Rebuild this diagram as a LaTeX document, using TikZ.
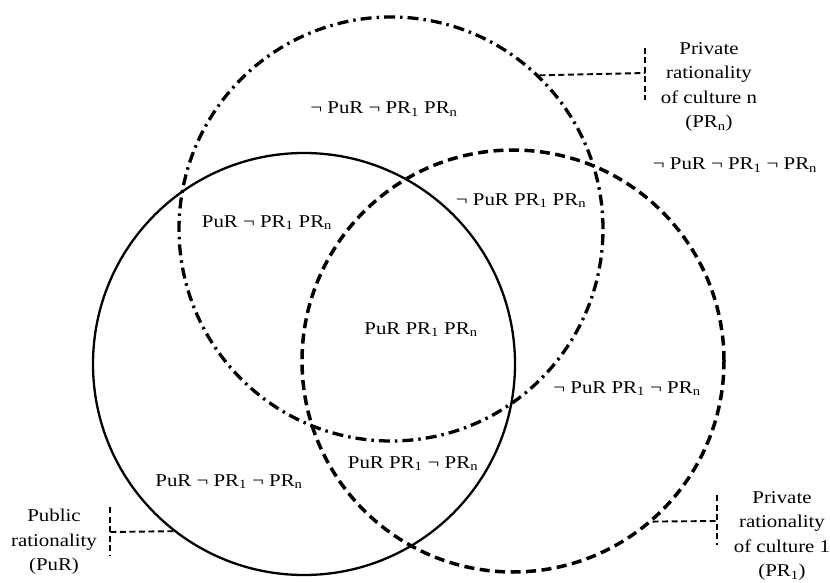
\documentclass[tikz,border=0pt]{standalone}
\usepackage{fontspec}
\setmainfont{Liberation Serif}[FakeStretch=1.16]
\usetikzlibrary{calc}
\begin{document}
\begin{tikzpicture}[x=1pt,y=-1pt,
  pubset/.style={draw, circle, inner sep=0pt, line width=2.3pt, minimum size=422pt},
  cultnset/.style={draw, circle, inner sep=0pt, line width=3.3pt, minimum size=424pt,
                   dash pattern=on 11pt off 5pt on 2.5pt off 5pt},
  cultoneset/.style={draw, circle, inner sep=0pt, line width=3.5pt, minimum size=422pt,
                     dash pattern=on 10pt off 5.5pt},
  lead/.style={line width=1.9pt, dash pattern=on 6pt off 3.5pt},
  region/.style={font=\fontsize{18}{25}\selectfont, inner sep=0pt, anchor=base},
  callout/.style={font=\fontsize{18}{24.5}\selectfont, inner sep=0pt, align=center}]
\useasboundingbox (0,0) rectangle (830,583);

% the three sets
\node[pubset]     (pur) at (304,364) {};
\node[cultnset]   (prn) at (391,229) {};
\node[cultoneset] (pro) at (513,361) {};

% region labels
\node[region] (r1) at (384,114) {¬ PuR ¬ PR\textsubscript{1} PR\textsubscript{n}};
\node[region] (r2) at (735,170) {¬ PuR ¬ PR\textsubscript{1} ¬ PR\textsubscript{n}};
\node[region] (r3) at (521,205) {¬ PuR PR\textsubscript{1} PR\textsubscript{n}};
\node[region] (r4) at (267,227) {PuR ¬ PR\textsubscript{1} PR\textsubscript{n}};
\node[region] (r5) at (421,334) {PuR PR\textsubscript{1} PR\textsubscript{n}};
\node[region] (r6) at (627,393) {¬ PuR PR\textsubscript{1} ¬ PR\textsubscript{n}};
\node[region] (r7) at (413,468) {PuR PR\textsubscript{1} ¬ PR\textsubscript{n}};
\node[region] (r8) at (229,486) {PuR ¬ PR\textsubscript{1} ¬ PR\textsubscript{n}};

% set names with their callouts
\node[callout] (lpur) at (54,542) {Public\\rationality\\(PuR)};
\node[callout] (lprn) at (709,87) {Private\\rationality\\of culture n\\(PR\textsubscript{n})};
\node[callout] (lpro) at (782,536) {Private\\rationality\\of culture 1\\(PR\textsubscript{1})};

\coordinate (tpur) at (110,532);
\coordinate (tprn) at (645,73);
\coordinate (tpro) at (717,521);

\draw[lead] (pur.232.4) -- (tpur);
\draw[lead] ([yshift=25pt]tpur) -- ([yshift=-23pt]tpur);
\draw[lead] (prn.46.9) -- (tprn);
\draw[lead] ([yshift=25pt]tprn) -- ([yshift=-27pt]tprn);
\draw[lead] (pro.311.2) -- (tpro);
\draw[lead] ([yshift=26pt]tpro) -- ([yshift=-24pt]tpro);
\end{tikzpicture}
\end{document}
